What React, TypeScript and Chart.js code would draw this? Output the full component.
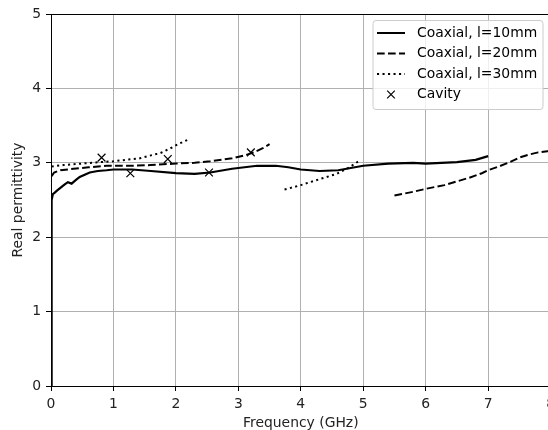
import React, { useEffect, useRef } from 'react';
import { Chart, registerables } from 'chart.js';

Chart.register(...registerables);

const xTicks = [0, 1, 2, 3, 4, 5, 6, 7, 8];
const yTicks = [0, 1, 2, 3, 4, 5];
const xLabel = 'Frequency (GHz)';
const yLabel = 'Real permittivity';
const legendLabels = ['Coaxial, l=10mm', 'Coaxial, l=20mm', 'Coaxial, l=30mm', 'Cavity'];

const coax10Freq = [0, 0.005, 0.015, 0.03, 0.06, 0.1, 0.16, 0.22, 0.27, 0.33, 0.4, 0.46, 0.54, 0.62, 0.75, 0.89, 1.0, 1.16, 1.3, 1.6, 2.0, 2.3, 2.55, 2.9, 3.3, 3.6, 3.8, 4.0, 4.3, 4.6, 5.0, 5.4, 5.8, 6.0, 6.5, 6.8, 7.0];
const coax10Eps = [0, 2.4, 2.5, 2.58, 2.6, 2.63, 2.67, 2.71, 2.74, 2.72, 2.77, 2.81, 2.84, 2.87, 2.89, 2.9, 2.91, 2.91, 2.91, 2.89, 2.86, 2.85, 2.87, 2.92, 2.96, 2.96, 2.94, 2.91, 2.89, 2.9, 2.96, 2.99, 3.0, 2.99, 3.01, 3.04, 3.09];

const coax20LowFreq = [0.01, 0.05, 0.15, 0.36, 0.6, 0.89, 1.1, 1.3, 1.6, 2.0, 2.3, 2.55, 2.9, 3.1, 3.25, 3.4, 3.5];
const coax20LowEps = [2.82, 2.87, 2.9, 2.92, 2.94, 2.96, 2.96, 2.96, 2.97, 2.99, 3.0, 3.02, 3.06, 3.1, 3.14, 3.2, 3.25];
const coax20HighFreq = [5.5, 5.8, 6.0, 6.3, 6.5, 6.7, 6.9, 7.0, 7.2, 7.35, 7.5, 7.65, 7.8, 8.0];
const coax20HighEps = [2.56, 2.61, 2.65, 2.7, 2.75, 2.8, 2.86, 2.9, 2.96, 3.01, 3.07, 3.11, 3.14, 3.16];

const coax30LowFreq = [0.01, 0.2, 0.5, 0.8, 1.0, 1.2, 1.42, 1.6, 1.75, 1.9, 2.06, 2.22];
const coax30LowEps = [2.95, 2.97, 2.99, 3.01, 3.02, 3.04, 3.06, 3.1, 3.13, 3.19, 3.26, 3.32];
const coax30HighFreq = [3.74, 4.0, 4.3, 4.57, 4.78, 4.94];
const coax30HighEps = [2.64, 2.7, 2.78, 2.85, 2.94, 3.03];

const cavityFreq = [0.81, 1.27, 1.87, 2.53, 3.2];
const cavityEps = [3.07, 2.86, 3.05, 2.87, 3.14];

const FONT = '"DejaVu Sans", sans-serif';
const FS = 13.9;
const DASHED = [7.7, 3.3];
const DOTTED = [2.1, 3.4];

const pts = (xs: number[], ys: number[]) => xs.map((x, i) => ({ x, y: ys[i] }));
const segments = (a: { x: number; y: number }[], b: { x: number; y: number }[]) => [
  ...a,
  { x: (a[a.length - 1].x + b[0].x) / 2, y: null as any },
  ...b,
];

const mplPlugin = {
  id: 'mplDecor',
  afterDraw(chart: any) {
    const ctx = chart.ctx as CanvasRenderingContext2D;
    const { left, top, right, bottom } = chart.chartArea;
    ctx.save();
    ctx.strokeStyle = '#000';
    ctx.lineWidth = 1;
    ctx.setLineDash([]);
    ctx.beginPath();
    ctx.moveTo(left, Math.round(top) + 0.5);
    ctx.lineTo(right, Math.round(top) + 0.5);
    ctx.moveTo(Math.round(right) + 0.5, top);
    ctx.lineTo(Math.round(right) + 0.5, bottom);
    ctx.stroke();

    const bx = 373, by = 20.5, bw = 170, bh = 89;
    ctx.beginPath();
    if ((ctx as any).roundRect) (ctx as any).roundRect(bx, by, bw, bh, 3);
    else ctx.rect(bx, by, bw, bh);
    ctx.fillStyle = 'rgba(255,255,255,0.8)';
    ctx.fill();
    ctx.strokeStyle = '#cccccc';
    ctx.lineWidth = 1;
    ctx.stroke();

    const rows = [33, 53.5, 74, 94.5];
    const dashes = [[], DASHED, DOTTED];
    ctx.font = `${FS}px ${FONT}`;
    ctx.textBaseline = 'middle';
    ctx.textAlign = 'left';
    legendLabels.forEach((label, i) => {
      const y = rows[i];
      ctx.strokeStyle = '#000';
      if (i < 3) {
        ctx.lineWidth = 2;
        ctx.setLineDash(dashes[i]);
        ctx.beginPath();
        ctx.moveTo(377, y);
        ctx.lineTo(405, y);
        ctx.stroke();
      } else {
        ctx.lineWidth = 1.2;
        ctx.setLineDash([]);
        const cx = 391, r = 3.8;
        ctx.beginPath();
        ctx.moveTo(cx - r, y - r);
        ctx.lineTo(cx + r, y + r);
        ctx.moveTo(cx - r, y + r);
        ctx.lineTo(cx + r, y - r);
        ctx.stroke();
      }
      ctx.fillStyle = '#000';
      ctx.fillText(label, 417, y);
    });
    ctx.restore();
  },
};

export default function App() {
  const ref = useRef<HTMLCanvasElement>(null);

  useEffect(() => {
    if (!ref.current) return;
    Chart.defaults.font.family = FONT;
    const axisCommon = (title: string, ticks: number[], isX: boolean) => ({
      type: 'linear' as const,
      min: ticks[0],
      max: ticks[ticks.length - 1],
      afterBuildTicks: (s: any) => {
        s.ticks = ticks.map((v) => ({ value: v }));
      },
      afterFit: (s: any) => {
        if (isX) s.height = 44;
        else s.width = 51;
      },
      grid: { color: '#b0b0b0', lineWidth: 1, tickColor: '#000', tickLength: 5, drawTicks: true },
      border: { color: '#000', width: 1 },
      ticks: {
        padding: 5,
        color: '#222',
        font: { size: FS, family: FONT },
        maxRotation: 0,
        autoSkip: false,
        callback: (v: any) => String(v),
      },
      title: {
        display: true,
        text: title,
        color: '#222',
        font: { size: FS, family: FONT, lineHeight: isX ? 1 : 1.2 },
        padding: isX ? { top: 0, bottom: 0 } : { top: 10, bottom: 0 },
      },
    });

    const chart = new Chart(ref.current, {
      type: 'line',
      data: {
        datasets: [
          {
            label: legendLabels[0],
            data: pts(coax10Freq, coax10Eps),
            borderColor: '#000',
            borderWidth: 2.2,
            pointRadius: 0,
            tension: 0,
            fill: false,
          },
          {
            label: legendLabels[1],
            data: segments(pts(coax20LowFreq, coax20LowEps), pts(coax20HighFreq, coax20HighEps)),
            borderColor: '#000',
            borderWidth: 2,
            borderDash: DASHED,
            pointRadius: 0,
            tension: 0,
            spanGaps: false,
            fill: false,
          },
          {
            label: legendLabels[2],
            data: segments(pts(coax30LowFreq, coax30LowEps), pts(coax30HighFreq, coax30HighEps)),
            borderColor: '#000',
            borderWidth: 2,
            borderDash: DOTTED,
            pointRadius: 0,
            tension: 0,
            spanGaps: false,
            fill: false,
          },
          {
            label: legendLabels[3],
            data: pts(cavityFreq, cavityEps),
            showLine: false,
            borderColor: '#000',
            backgroundColor: '#000',
            borderWidth: 1.2,
            pointStyle: 'crossRot',
            pointRadius: 5.5,
          } as any,
        ],
      },
      options: {
        animation: false,
        responsive: false,
        devicePixelRatio: 1,
        layout: { padding: { top: 14, right: 9, left: 0, bottom: 0 } },
        plugins: { legend: { display: false }, tooltip: { enabled: false } },
        scales: {
          x: axisCommon(xLabel, xTicks, true) as any,
          y: axisCommon(yLabel, yTicks, false) as any,
        },
      },
      plugins: [mplPlugin],
    });
    return () => chart.destroy();
  }, []);

  return (
    <div style={{ position: 'fixed', left: 0, top: 0, width: 560, height: 430, background: '#fff' }}>
      <canvas ref={ref} width={560} height={430} style={{ display: 'block' }} />
    </div>
  );
}
